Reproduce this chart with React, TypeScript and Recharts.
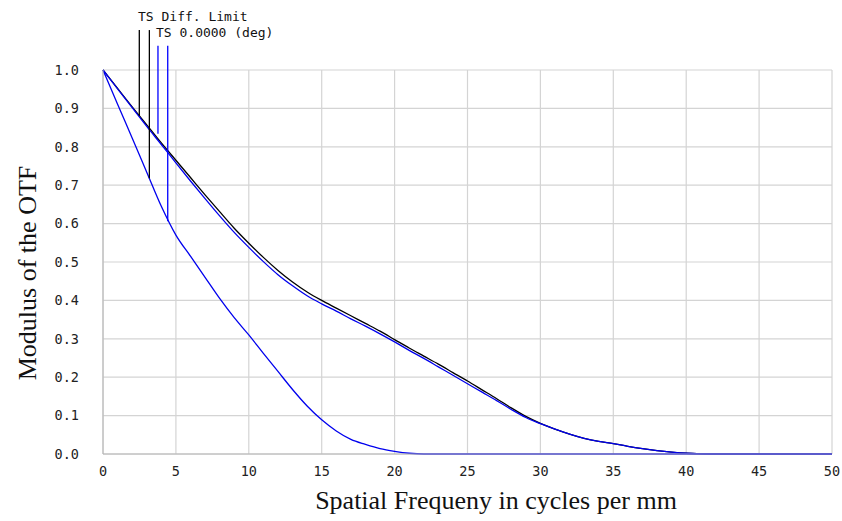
import React from "react";
import { LineChart, Line, XAxis, YAxis, CartesianGrid, ReferenceLine } from "recharts";

// spatial frequency (cycles/mm)
const freq = [
  0, 1, 2, 3, 4, 5, 6, 7, 8, 9, 10, 11, 12, 13, 14, 15, 16, 17, 18, 19, 20, 21, 22, 23, 24, 25,
  26, 27, 28, 29, 30, 31, 32, 33, 34, 35, 36, 37, 38, 39, 40, 41, 42, 43, 44, 45, 46, 47, 48, 49, 50,
];

// diffraction limit (black)
const diffLimit = [
  1.0, 0.952, 0.904, 0.857, 0.81, 0.765, 0.72, 0.675, 0.631, 0.588, 0.549, 0.512, 0.478, 0.448,
  0.422, 0.4, 0.38, 0.36, 0.34, 0.32, 0.298, 0.276, 0.255, 0.234, 0.212, 0.19, 0.167, 0.144, 0.12,
  0.098, 0.08, 0.065, 0.052, 0.041, 0.033, 0.027, 0.02, 0.014, 0.009, 0.005, 0.002, 0.0005, 0, 0,
  0, 0, 0, 0, 0, 0, 0,
];

// tangential 0.0000 deg (upper blue)
const tangential = [
  1.0, 0.951, 0.902, 0.853, 0.806, 0.758, 0.711, 0.665, 0.62, 0.577, 0.538, 0.501, 0.467, 0.438,
  0.412, 0.391, 0.372, 0.352, 0.333, 0.313, 0.292, 0.27, 0.249, 0.227, 0.205, 0.183, 0.161, 0.139,
  0.116, 0.095, 0.079, 0.065, 0.052, 0.041, 0.033, 0.027, 0.02, 0.014, 0.009, 0.005, 0.002, 0.0005,
  0, 0, 0, 0, 0, 0, 0, 0, 0,
];

// sagittal 0.0000 deg (lower blue)
const sagittal = [
  1.0, 0.911, 0.823, 0.734, 0.645, 0.57, 0.515, 0.46, 0.405, 0.355, 0.31, 0.262, 0.215, 0.168,
  0.125, 0.089, 0.06, 0.038, 0.025, 0.014, 0.007, 0.002, 0, 0, 0, 0, 0, 0, 0, 0, 0, 0, 0, 0, 0, 0,
  0, 0, 0, 0, 0, 0, 0, 0, 0, 0, 0, 0, 0, 0, 0,
];

const xTicks = [0, 5, 10, 15, 20, 25, 30, 35, 40, 45, 50];
const yTicks = [0, 0.1, 0.2, 0.3, 0.4, 0.5, 0.6, 0.7, 0.8, 0.9, 1.0];

// legend marker lines: x position, top and bottom value
const legendMarks = [
  { x: 2.49, top: 1.104, bottom: 0.88, color: "#000000" },
  { x: 3.18, top: 1.104, bottom: 0.718, color: "#000000" },
  { x: 3.77, top: 1.063, bottom: 0.834, color: "#0000ff" },
  { x: 4.44, top: 1.063, bottom: 0.606, color: "#0000ff" },
];

const data = freq.map((f, i) => ({
  f,
  diff: diffLimit[i],
  t: tangential[i],
  s: sagittal[i],
}));

const mono = "'DejaVu Sans Mono', monospace";
const serif = "'Liberation Serif', 'Times New Roman', serif";

export default function App() {
  return (
    <div style={{ position: "absolute", left: 0, top: 0, width: 842, height: 521, background: "#fff" }}>
      <LineChart width={842} height={521} data={data} margin={{ top: 70, right: 10, left: 0, bottom: 0 }}>
        <CartesianGrid stroke="#d4d4d4" strokeWidth={1.2} />
        <XAxis
          dataKey="f"
          type="number"
          domain={[0, 50]}
          ticks={xTicks}
          height={67}
          stroke="#b4b4b4"
          tickLine={false}
          tickSize={0}
          tickMargin={12}
          tick={{ fontSize: 13.5, fontFamily: mono, fill: "#222" }}
        />
        <YAxis
          type="number"
          domain={[0, 1]}
          ticks={yTicks}
          width={103}
          stroke="#b4b4b4"
          tickLine={false}
          tickSize={0}
          tickMargin={24}
          tickFormatter={(v: number) => v.toFixed(1)}
          tick={{ fontSize: 13.5, fontFamily: mono, fill: "#222" }}
        />
        <Line dataKey="diff" stroke="#000000" strokeWidth={1.3} dot={false} type="monotone" isAnimationActive={false} />
        <Line dataKey="t" stroke="#0000ee" strokeWidth={1.3} dot={false} type="monotone" isAnimationActive={false} />
        <Line dataKey="s" stroke="#0000ee" strokeWidth={1.3} dot={false} type="monotone" isAnimationActive={false} />
        {legendMarks.map((m, i) => (
          <ReferenceLine
            key={i}
            segment={[
              { x: m.x, y: m.top },
              { x: m.x, y: m.bottom },
            ]}
            stroke={m.color}
            strokeWidth={1.3}
            ifOverflow="visible"
          />
        ))}
      </LineChart>
      <div style={{ position: "absolute", left: 138, top: 9, fontFamily: mono, fontSize: 13, color: "#111", whiteSpace: "nowrap" }}>
        TS Diff. Limit
      </div>
      <div style={{ position: "absolute", left: 156, top: 25, fontFamily: mono, fontSize: 13, color: "#111", whiteSpace: "nowrap" }}>
        TS 0.0000 (deg)
      </div>
      <div
        style={{
          position: "absolute",
          left: 496,
          top: 486,
          transform: "translateX(-50%)",
          fontFamily: serif,
          fontSize: 26,
          color: "#111",
          whiteSpace: "nowrap",
        }}
      >
        Spatial Frequeny in cycles per mm
      </div>
      <div
        style={{
          position: "absolute",
          left: 28,
          top: 273,
          transform: "translate(-50%, -50%) rotate(-90deg)",
          fontFamily: serif,
          fontSize: 26,
          color: "#111",
          whiteSpace: "nowrap",
        }}
      >
        Modulus of the OTF
      </div>
    </div>
  );
}
